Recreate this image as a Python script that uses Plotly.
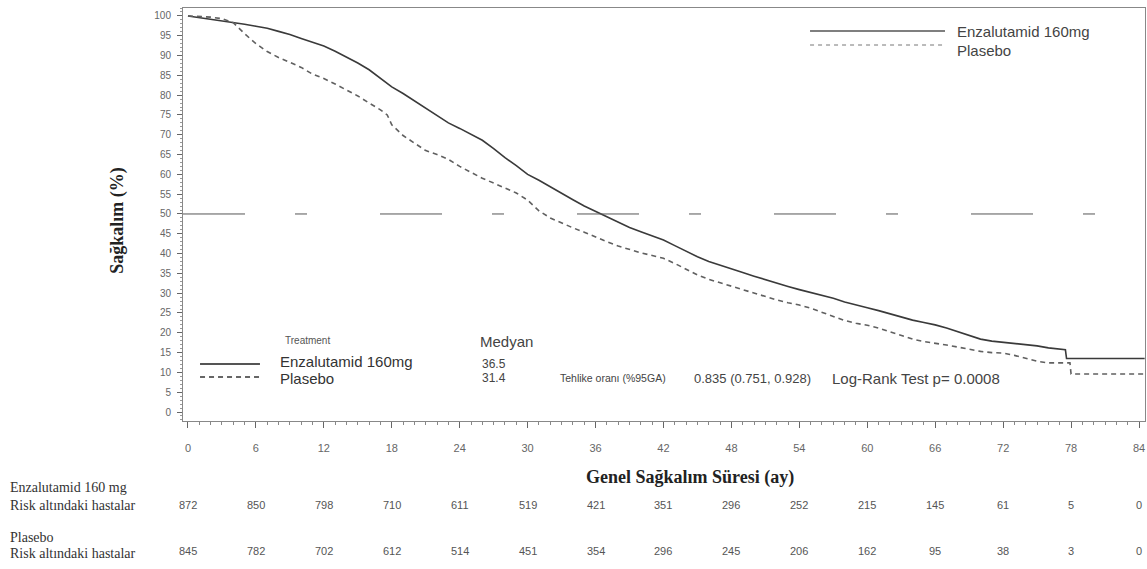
import plotly.graph_objects as go

# ---- data ----
months_enza = [0, 1, 2, 3, 4, 5, 6, 7, 8, 9, 10, 11, 12, 13, 14, 15, 16, 17, 18, 19, 20,
               21, 22, 23, 24, 25, 26, 27, 28, 29, 30, 31, 32, 33, 34, 35, 36, 37, 38, 39,
               40, 41, 42, 43, 44, 45, 46, 47, 48, 49, 50, 51, 52, 53, 54, 55, 56, 57, 58,
               59, 60, 61, 62, 63, 64, 65, 66, 67, 68, 69, 70, 71, 72, 73, 74, 75, 76, 77,
               77.5, 77.6, 84.5]
surv_enza = [100, 99.6, 99.2, 98.8, 98.4, 97.9, 97.4, 96.9, 96.1, 95.3, 94.3, 93.3, 92.4,
             91.1, 89.7, 88.1, 86.4, 84.3, 82.1, 80.4, 78.6, 76.7, 74.8, 73.0, 71.6, 70.2,
             68.6, 66.5, 64.2, 62.2, 60.0, 58.5, 56.8, 55.3, 53.6, 52.0, 50.6, 49.2, 47.8,
             46.6, 45.5, 44.4, 43.4, 42.0, 40.5, 39.2, 38.0, 37.0, 36.0, 35.2, 34.3, 33.4,
             32.6, 31.7, 30.9, 30.2, 29.5, 28.7, 27.8, 27.0, 26.3, 25.6, 24.8, 24.0, 23.2,
             22.6, 22.0, 21.2, 20.2, 19.2, 18.4, 17.9, 17.6, 17.3, 17.0, 16.7, 16.2, 15.8,
             15.7, 13.5, 13.5]

months_plac = [0, 1, 2, 3, 4, 5, 6, 7, 8, 9, 10, 11, 12, 13, 14, 15, 16, 17, 17.6, 18, 19,
               20, 21, 22, 23, 24, 25, 26, 27, 28, 29, 30, 31, 32, 33, 34, 35, 36, 37, 38,
               39, 40, 41, 42, 43, 44, 45, 46, 47, 48, 49, 50, 51, 52, 53, 54, 55, 56, 57,
               58, 59, 60, 61, 62, 63, 64, 65, 66, 67, 68, 69, 70, 71, 72, 73, 74, 75, 76,
               77, 77.9, 78, 84.5]
surv_plac = [100, 99.9, 99.7, 99.3, 98.3, 95.5, 93.0, 91.0, 89.5, 88.3, 87.0, 85.3, 84.2,
             82.8, 81.3, 79.8, 78.0, 76.3, 75.0, 72.5, 69.8, 67.8, 66.0, 65.0, 63.8, 62.0,
             60.5, 59.0, 57.8, 56.6, 55.3, 53.5, 50.8, 49.0, 47.7, 46.5, 45.4, 44.3, 43.0,
             41.9, 41.0, 40.2, 39.5, 38.8, 37.5, 36.0, 34.6, 33.5, 32.6, 31.8, 30.9, 30.0,
             29.1, 28.3, 27.6, 27.0, 26.2, 25.2, 24.2, 23.1, 22.4, 21.9, 21.2, 20.3, 19.3,
             18.4, 17.8, 17.4, 16.9, 16.4, 15.8, 15.3, 15.0, 14.9, 14.3, 13.5, 12.8, 12.4,
             12.4, 12.4, 9.6, 9.6]

tick_months = list(range(0, 85, 6))
risk_enza = [872, 850, 798, 710, 611, 519, 421, 351, 296, 252, 215, 145, 61, 5, 0]
risk_plac = [845, 782, 702, 612, 514, 451, 354, 296, 245, 206, 162, 95, 38, 3, 0]
y_ticks = list(range(0, 101, 5))
reference_level = 50

SANS = "Liberation Sans, Arial, sans-serif"
SERIF = "Liberation Serif, Times New Roman, serif"

fig = go.Figure()
fig.add_trace(go.Scatter(x=months_enza, y=surv_enza, mode="lines",
                         line=dict(color="#3a3a3a", width=1.6), name="Enzalutamid 160mg",
                         showlegend=False))
fig.add_trace(go.Scatter(x=months_plac, y=surv_plac, mode="lines",
                         line=dict(color="#606060", width=1.6, dash="5px,4px"), name="Plasebo",
                         showlegend=False))

# 50 % reference line
fig.add_shape(type="line", xref="paper", yref="y", x0=0, x1=1, y0=reference_level,
              y1=reference_level, line=dict(color="#555555", width=1, dash="62px,50px,12px,73px"))

annotations = []


def note(text, x, y, size, family=SANS, color="#444", xanchor="left", xref="paper", **kw):
    annotations.append(dict(text=text, x=x, y=y, xref=xref, yref="paper", xanchor=xanchor,
                            yanchor="middle", showarrow=False,
                            font=dict(family=family, size=size, color=color), **kw))


# axis titles
note("<b>Sağkalım (%)</b>", -0.0676, 0.487, 18, family=SERIF, color="#222", xanchor="center",
     textangle=-90)
note("<b>Genel Sağkalım Süresi (ay)</b>", 0.527, -0.1356, 18, family=SERIF, color="#222",
     xanchor="center")

# top-right legend
fig.add_shape(type="line", xref="paper", yref="paper", x0=0.6518, x1=0.7921, y0=0.9443, y1=0.9443,
              line=dict(color="#555", width=1.3))
fig.add_shape(type="line", xref="paper", yref="paper", x0=0.6518, x1=0.7921, y0=0.9104, y1=0.9104,
              line=dict(color="#777", width=1, dash="4px,4px"))
note("Enzalutamid 160mg", 0.8025, 0.9419, 15)
note("Plasebo", 0.8025, 0.8983, 15)

# bottom-left treatment legend
fig.add_shape(type="line", xref="paper", yref="paper", x0=0.0177, x1=0.080, y0=0.138, y1=0.138,
              line=dict(color="#555", width=2))
fig.add_shape(type="line", xref="paper", yref="paper", x0=0.0177, x1=0.080, y0=0.1065, y1=0.1065,
              line=dict(color="#666", width=2, dash="5px,4px"))
note("Treatment", 0.104, 0.196, 10, color="#555")
note("Enzalutamid 160mg", 0.0988, 0.1429, 15, color="#333")
note("Plasebo", 0.0988, 0.1017, 15, color="#333")
note("Medyan", 0.3067, 0.1937, 15)
note("36.5", 0.3087, 0.138, 12)
note("31.4", 0.3087, 0.1041, 12)
note("Tehlike oranı (%95GA)", 0.3898, 0.1041, 10.5)
note("0.835 (0.751, 0.928)", 0.529, 0.1041, 13)
note("Log-Rank Test p= 0.0008", 0.6726, 0.1041, 15)

# risk table labels
for txt, yy in [("Enzalutamid 160 mg", -0.162), ("Risk altındaki hastalar", -0.2034),
                ("Plasebo", -0.283), ("Risk altındaki hastalar", -0.3220)]:
    note(txt, -0.1819, yy, 14, family=SERIF, color="#333")
for m, n in zip(tick_months, risk_enza):
    note(str(n), m, -0.2034, 11, color="#555", xanchor="center", xref="x")
for m, n in zip(tick_months, risk_plac):
    note(str(n), m, -0.3148, 11, color="#555", xanchor="center", xref="x")

fig.update_layout(
    width=1147, height=569,
    margin=dict(l=183, r=2, t=8, b=148),
    paper_bgcolor="white", plot_bgcolor="white",
    showlegend=False,
    annotations=annotations,
    xaxis=dict(range=[-0.44, 84.53], tickvals=tick_months, ticks="outside", ticklen=6,
               tickcolor="#666", showgrid=False, zeroline=False, showline=True, mirror=True,
               linecolor="#888", linewidth=1, ticklabelstandoff=11,
               tickfont=dict(family=SANS, size=11, color="#666"),
               minor=dict(dtick=1, ticks="outside", ticklen=3, tickcolor="#888", showgrid=False)),
    yaxis=dict(range=[-2.27, 102.0], tickvals=y_ticks, ticks="outside", ticklen=5,
               tickcolor="#666", showgrid=False, zeroline=False, showline=True, mirror=True,
               linecolor="#888", linewidth=1, ticklabelstandoff=4,
               tickfont=dict(family=SANS, size=10, color="#666"),
               minor=dict(dtick=1, ticks="outside", ticklen=2, tickcolor="#999", showgrid=False)),
)

fig.write_html("out.html")
